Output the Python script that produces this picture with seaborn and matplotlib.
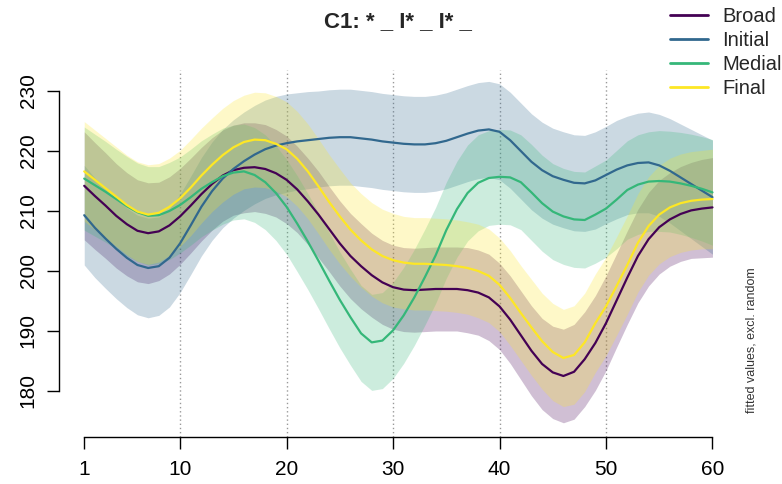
import matplotlib
matplotlib.use("Agg")
import matplotlib.pyplot as plt
from matplotlib.lines import Line2D
import numpy as np
import pandas as pd
import seaborn as sns

# ---- data ----
x_vals = list(range(1, 61))

broad_fit = [214.2, 212.5, 210.9, 209.2, 207.8, 206.7, 206.3, 206.6, 207.6, 209.1,
             210.9, 212.8, 214.5, 215.9, 216.8, 217.2, 217.3, 217.0, 216.3, 215.2,
             213.6, 211.6, 209.4, 207.0, 204.6, 202.5, 200.8, 199.3, 198.1, 197.3,
             196.9, 196.8, 196.9, 197.0, 197.0, 197.0, 196.8, 196.4, 195.6, 194.1,
             191.9, 189.3, 186.7, 184.5, 183.1, 182.5, 183.2, 185.3, 188.0, 191.3,
             195.1, 198.9, 202.5, 205.3, 207.3, 208.6, 209.5, 210.1, 210.4, 210.6]
initial_fit = [209.3, 207.2, 205.4, 203.7, 202.2, 201.0, 200.5, 200.8, 202.2, 204.6,
               207.6, 210.7, 213.3, 215.4, 217.0, 218.3, 219.4, 220.3, 220.9, 221.3,
               221.6, 221.8, 222.0, 222.2, 222.3, 222.3, 222.1, 221.9, 221.6, 221.4,
               221.2, 221.1, 221.1, 221.3, 221.7, 222.3, 222.9, 223.4, 223.6, 223.2,
               221.8, 220.0, 218.2, 216.8, 215.8, 215.2, 214.7, 214.6, 215.1, 216.0,
               216.9, 217.6, 218.0, 218.1, 217.6, 216.7, 215.6, 214.5, 213.4, 212.3]
medial_fit = [215.4, 214.3, 213.2, 212.0, 210.8, 209.8, 209.2, 209.3, 210.0, 211.0,
              212.3, 213.7, 214.8, 215.8, 216.4, 216.6, 216.0, 214.8, 213.0, 210.7,
              207.9, 204.9, 201.7, 198.4, 195.2, 192.3, 189.6, 188.1, 188.4, 190.1,
              192.6, 195.6, 199.0, 202.6, 206.8, 210.3, 213.0, 214.7, 215.5, 215.7,
              215.6, 214.8, 213.1, 211.3, 209.9, 209.1, 208.6, 208.5, 209.4, 210.4,
              211.9, 213.5, 214.4, 214.9, 215.0, 214.9, 214.6, 214.2, 213.7, 213.1]
final_fit = [216.6, 215.2, 213.8, 212.4, 211.0, 209.9, 209.4, 209.7, 210.7, 212.1,
             213.9, 215.9, 217.7, 219.3, 220.6, 221.5, 221.9, 221.8, 221.2, 220.3,
             218.7, 216.6, 214.1, 211.5, 209.1, 206.9, 205.1, 203.6, 202.5, 201.8,
             201.4, 201.2, 201.2, 201.1, 201.0, 200.8, 200.5, 200.0, 199.2, 197.7,
             195.5, 193.0, 190.6, 188.3, 186.5, 185.5, 186.0, 188.1, 191.3, 194.1,
             197.5, 201.0, 204.7, 207.5, 209.4, 210.6, 211.3, 211.7, 211.9, 212.0]

# half-widths of the confidence bands
broad_ci = [9.0, 8.9, 8.8, 8.7, 8.6, 8.5, 8.4, 8.2, 8.1, 8.0,
            7.9, 7.8, 7.7, 7.6, 7.5, 7.5, 7.4, 7.4, 7.3, 7.3,
            7.2, 7.2, 7.2, 7.1, 7.1, 7.1, 7.1, 7.0, 7.0, 7.0,
            7.0, 7.0, 7.0, 7.0, 7.0, 7.0, 7.1, 7.1, 7.2, 7.2,
            7.3, 7.4, 7.5, 7.6, 7.7, 7.8, 7.9, 7.9, 7.9, 7.9,
            7.8, 7.8, 7.8, 7.8, 7.8, 7.8, 7.9, 8.0, 8.2, 8.3]
initial_ci = [8.3, 8.3, 8.3, 8.3, 8.3, 8.3, 8.3, 8.2, 8.2, 8.2,
              8.2, 8.2, 8.2, 8.2, 8.2, 8.2, 8.2, 8.2, 8.2, 8.2,
              8.1, 8.1, 8.0, 8.0, 8.0, 8.0, 8.0, 8.0, 8.0, 8.0,
              8.0, 8.0, 8.0, 8.0, 8.0, 8.0, 8.0, 8.0, 8.0, 8.0,
              8.0, 8.0, 8.0, 8.0, 8.0, 8.0, 8.0, 8.0, 8.1, 8.1,
              8.2, 8.2, 8.3, 8.4, 8.5, 8.7, 8.9, 9.1, 9.3, 9.5]
medial_ci = [8.6, 8.5, 8.4, 8.3, 8.3, 8.2, 8.2, 8.1, 8.1, 8.0,
             8.0, 8.0, 8.0, 8.0, 7.9, 7.9, 7.9, 7.9, 7.9, 7.9,
             8.0, 8.0, 8.0, 8.0, 8.0, 8.0, 8.0, 8.0, 8.0, 8.0,
             8.0, 8.0, 8.0, 8.0, 8.0, 8.0, 8.0, 8.0, 7.9, 7.9,
             7.9, 7.9, 8.0, 8.0, 8.0, 8.0, 8.0, 8.0, 8.1, 8.1,
             8.2, 8.2, 8.3, 8.3, 8.4, 8.4, 8.5, 8.6, 8.7, 8.8]
final_ci = [8.3, 8.3, 8.3, 8.3, 8.3, 8.3, 8.3, 8.2, 8.1, 8.0,
            8.0, 7.9, 7.8, 7.8, 7.8, 7.8, 7.9, 7.9, 7.9, 7.9,
            7.9, 7.9, 7.9, 7.9, 7.9, 7.8, 7.8, 7.8, 7.8, 7.8,
            7.7, 7.7, 7.7, 7.7, 7.7, 7.7, 7.7, 7.8, 7.8, 7.8,
            7.9, 7.9, 8.0, 8.0, 8.1, 8.1, 8.2, 8.2, 8.2, 8.2,
            8.2, 8.2, 8.2, 8.2, 8.2, 8.2, 8.2, 8.2, 8.2, 8.3]

groups = ["Broad", "Initial", "Medial", "Final"]
colors = ["#440154", "#31688E", "#35B779", "#FDE725"]
x_ticks = [1, 10, 20, 30, 40, 50, 60]
y_ticks = [180, 190, 200, 210, 220, 230]
grid_x = [10, 20, 30, 40, 50]
title = "C1: * _ I* _ I* _"
side_label = "fitted values, excl. random"

fits = {"Broad": broad_fit, "Initial": initial_fit, "Medial": medial_fit, "Final": final_fit}
cis = {"Broad": broad_ci, "Initial": initial_ci, "Medial": medial_ci, "Final": final_ci}

frames = []
for g in groups:
    f = np.array(fits[g]); c = np.array(cis[g])
    frames.append(pd.DataFrame({"x": x_vals, "fit": f, "lo": f - c, "hi": f + c, "group": g}))
df = pd.concat(frames, ignore_index=True)

# ---- figure ----
sns.set_style("white")
plt.rcParams["font.family"] = ["Liberation Sans", "DejaVu Sans"]

fig = plt.figure(figsize=(7.82, 4.84), dpi=100)
ax = fig.add_axes([59.1 / 782, (484 - 437) / 484, (737.6 - 59.1) / 782, (437 - 70) / 484])

for g, c in zip(groups, colors):
    sub = df[df.group == g]
    ax.fill_between(sub.x, sub.lo, sub.hi, color=c, alpha=0.25, lw=0, zorder=1)

sns.lineplot(data=df, x="x", y="fit", hue="group", hue_order=groups, palette=colors,
             estimator=None, lw=1.6, legend=False, ax=ax, zorder=3)

for gx in grid_x:
    ax.axvline(gx, color="#999999", ls=(0, (1, 2)), lw=1, zorder=0.5)

ax.set_xlim(-1.36, 62.36)
ax.set_ylim(172.33, 233.5)
ax.set_xticks(x_ticks)
ax.set_yticks(y_ticks)
ax.set_xlabel("")
ax.set_ylabel("")
ax.grid(False)
for s in ["top", "right"]:
    ax.spines[s].set_visible(False)
ax.spines["left"].set_bounds(180, 230)
ax.spines["bottom"].set_bounds(1, 60)
for s in ["left", "bottom"]:
    ax.spines[s].set_color("black")
    ax.spines[s].set_linewidth(1.0)
ax.tick_params(axis="both", direction="out", length=8.5, width=1.0, colors="black",
               labelsize=15, left=True, bottom=True)
ax.tick_params(axis="x", pad=8)
ax.tick_params(axis="y", pad=7, labelrotation=90)
for lab in ax.get_yticklabels():
    lab.set_va("center")

fig.text(398 / 782, 1 - 27 / 484, title, ha="center", va="baseline",
         fontsize=16, fontweight="bold")
fig.text(752 / 782, 1 - 340 / 484, side_label, rotation=90, ha="center", va="center",
         fontsize=9, color="#333333")

handles = [Line2D([], [], color=c, lw=2.0) for c in colors]
fig.legend(handles, groups, loc="upper left", bbox_to_anchor=(670 / 782, 1 - 7 / 484),
           frameon=False, fontsize=14.5, handlelength=1.9, handletextpad=0.7,
           labelspacing=0.25, borderpad=0, borderaxespad=0)

fig.savefig("out.png", dpi=100)
